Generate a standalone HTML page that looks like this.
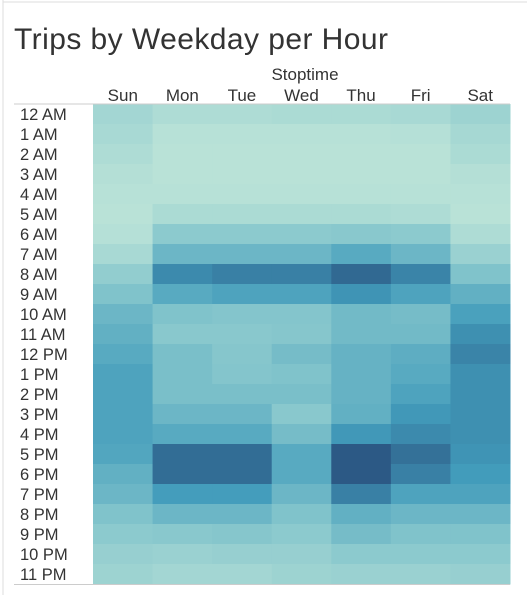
<!DOCTYPE html>
<html><head><meta charset="utf-8"><style>
body{margin:0;width:527px;height:595px;background:#fff;overflow:hidden;font-family:"Liberation Sans",sans-serif;}
</style></head><body>
<svg width="527" height="595">
<line x1="3" y1="0" x2="3" y2="595" stroke="#ddd"/>
<line x1="3" y1="2" x2="527" y2="2" stroke="#ddd"/>
<text x="14" y="49" font-size="30" fill="#333" textLength="374">Trips by Weekday per Hour</text>
<text x="305" y="80" font-size="17" fill="#333" text-anchor="middle">Stoptime</text>
<g id="cells"></g><g id="labels"></g>
<line x1="14" y1="104" x2="510" y2="104" stroke="#ccc"/>
<line x1="14" y1="584.5" x2="510" y2="584.5" stroke="#ccc"/>
</svg>
<script>
const days=["Sun","Mon","Tue","Wed","Thu","Fri","Sat"];
const hours=["12 AM","1 AM","2 AM","3 AM","4 AM","5 AM","6 AM","7 AM","8 AM","9 AM","10 AM","11 AM","12 PM","1 PM","2 PM","3 PM","4 PM","5 PM","6 PM","7 PM","8 PM","9 PM","10 PM","11 PM"];
const values=[
[.15,.08,.08,.1,.1,.12,.18],
[.12,.03,.03,.03,.03,.04,.13],
[.08,.02,.02,.02,.02,.02,.1],
[.05,.02,.02,.02,.02,.02,.05],
[.03,.03,.03,.03,.03,.03,.03],
[.02,.1,.1,.1,.1,.08,.02],
[.04,.28,.28,.28,.3,.28,.08],
[.12,.45,.45,.45,.55,.45,.2],
[.25,.75,.8,.8,.92,.78,.35],
[.35,.55,.6,.6,.7,.6,.5],
[.45,.35,.33,.33,.42,.4,.62],
[.5,.3,.3,.32,.42,.42,.72],
[.55,.38,.32,.4,.48,.52,.78],
[.6,.38,.33,.35,.48,.55,.72],
[.6,.38,.38,.38,.48,.6,.72],
[.6,.45,.45,.3,.5,.68,.72],
[.6,.55,.55,.4,.68,.75,.72],
[.58,.9,.9,.55,1.0,.88,.7],
[.5,.9,.9,.55,1.0,.8,.66],
[.45,.65,.65,.45,.8,.6,.6],
[.35,.45,.45,.35,.5,.45,.45],
[.28,.3,.32,.28,.4,.35,.35],
[.22,.2,.22,.22,.28,.28,.28],
[.18,.15,.15,.18,.2,.2,.22]];
const NS="http://www.w3.org/2000/svg";
const x0=93,x1=510,y0=104,y1=584;
const cw=(x1-x0)/days.length, rh=(y1-y0)/hours.length;
const xPos=i=>x0+i*cw, yPos=j=>y0+j*rh;
const stops=[[0,[188,228,216]],[.33,[132,197,204]],[.66,[66,156,187]],[1,[44,89,133]]];
function color(v){for(let k=1;k<stops.length;k++){if(v<=stops[k][0]){const a=stops[k-1],b=stops[k],t=(v-a[0])/(b[0]-a[0]);return "rgb("+a[1].map((c,i)=>Math.round(c+(b[1][i]-c)*t)).join(",")+")";}}return "rgb(44,89,133)";}
const cells=document.getElementById('cells'),labels=document.getElementById('labels');
values.forEach((row,j)=>row.forEach((v,i)=>{
const r=document.createElementNS(NS,'rect');
r.setAttribute('x',xPos(i));r.setAttribute('y',yPos(j));r.setAttribute('width',cw+0.5);r.setAttribute('height',rh+0.5);
r.setAttribute('fill',color(v));


cells.appendChild(r);}));
days.forEach((d,i)=>{const t=document.createElementNS(NS,'text');
t.setAttribute('x',xPos(i)+cw/2);t.setAttribute('y',101);t.setAttribute('font-size','17');t.setAttribute('fill','#333');t.setAttribute('text-anchor','middle');t.textContent=d;


labels.appendChild(t);});
hours.forEach((h,j)=>{const t=document.createElementNS(NS,'text');
t.setAttribute('x',20);t.setAttribute('y',yPos(j)+rh/2+6);t.setAttribute('font-size','16.5');t.setAttribute('fill','#333');t.textContent=h;


labels.appendChild(t);});
</script>
</body></html>
